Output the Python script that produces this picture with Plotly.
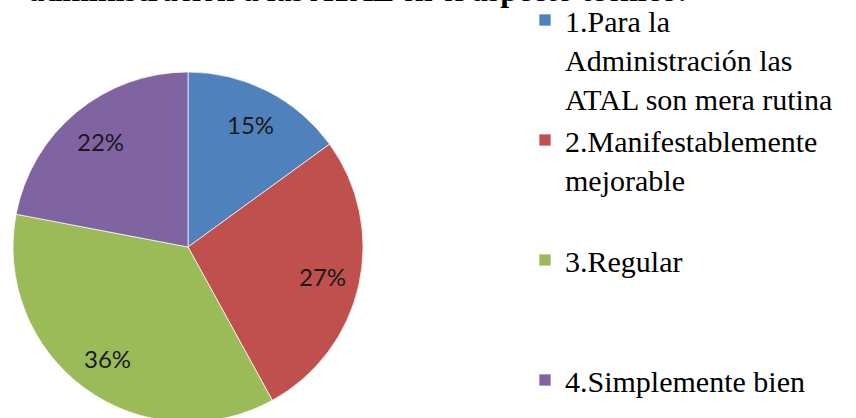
import math
import plotly.graph_objects as go

labels = [
    "1.Para la<br>Administración las<br>ATAL son mera rutina",
    "2.Manifestablemente<br>mejorable<br> ",
    "3.Regular<br> <br> ",
    "4.Simplemente bien",
]
values = [15, 27, 36, 22]
colors = ["#4F81BD", "#C0504D", "#9BBB59", "#8064A2"]
title_text = "administración a las ATAL en el aspecto técnico:"

SERIF = "Liberation Serif, Times New Roman, serif"
W, H = 856, 450          # figure is taller than the 418px view; top/bottom are cropped
SHIFT = 6                # page is shifted up by this many pixels
# pie geometry in page pixels
PCX, PCY, PR = 188, 247, 175
fy = PCY + SHIFT
dom_x = [(PCX - PR) / W, (PCX + PR) / W]
dom_y = [(H - fy - PR) / H, (H - fy + PR) / H]

fig = go.Figure(go.Pie(
    labels=labels,
    values=values,
    sort=False,
    direction="clockwise",
    rotation=0,
    marker=dict(colors=colors, line=dict(color="rgba(255,255,255,0.7)", width=1)),
    textinfo="none",
    domain=dict(x=dom_x, y=dom_y),
    hoverinfo="label+percent",
))

# percentage labels placed along each slice's mid-angle
cx = (dom_x[0] + dom_x[1]) / 2 * W
rad = min((dom_x[1] - dom_x[0]) * W, (dom_y[1] - dom_y[0]) * H) / 2
cy = H - (dom_y[0] * H + rad)
total = sum(values)
cum = 0
annotations = []
for v in values:
    mid = (cum + v / 2) / total * 2 * math.pi
    cum += v
    px = cx + 0.785 * rad * math.sin(mid)
    py = cy - 0.785 * rad * math.cos(mid)
    annotations.append(dict(
        x=px / W, y=1 - py / H, xref="paper", yref="paper",
        text=f"{round(v / total * 100)}%", showarrow=False,
        font=dict(family="Lato", size=24, color="#1a1a1a"),
        xanchor="center", yanchor="middle",
    ))

fig.update_layout(
    width=W, height=H,
    margin=dict(l=0, r=0, t=0, b=0),
    paper_bgcolor="white",
    plot_bgcolor="white",
    font=dict(family=SERIF, size=30, color="black"),
    title=dict(
        text=f"<b>{title_text}</b>",
        x=358 / W, xanchor="center",
        y=1 - (SHIFT + 1) / H, yanchor="bottom", yref="container",
        font=dict(family=SERIF, size=32, color="black"),
    ),
    legend=dict(
        x=525 / W, xanchor="left",
        y=1.0, yanchor="top",
        valign="top",
        font=dict(family=SERIF, size=30, color="black"),
        bgcolor="rgba(0,0,0,0)",
    ),
    annotations=annotations,
)

fig.write_html(
    "out.html", config={"displayModeBar": False},
    post_script=f"document.body.style.margin='-{SHIFT}px 0 0 0';"
                "document.body.style.overflow='hidden';"
                "document.documentElement.style.overflow='hidden';",
)
